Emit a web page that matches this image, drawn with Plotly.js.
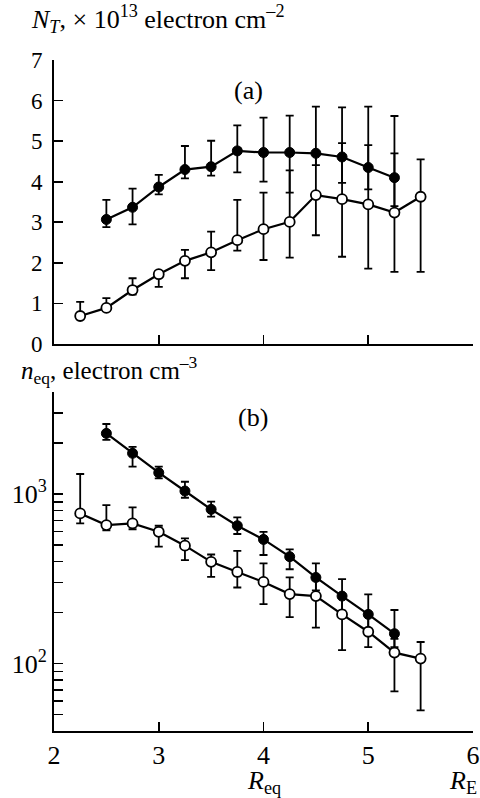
<!DOCTYPE html>
<html>
<head>
<meta charset="utf-8">
<script src="https://cdn.plot.ly/plotly-3.0.1.min.js"></script>
<style>
  html, body { margin: 0; padding: 0; background: #fff; }
  #chart { width: 480px; height: 798px; }
</style>
</head>
<body>
<div id="chart"></div>
<script>
// Equatorial distance, R_E
const rFilled = [2.5, 2.75, 3.0, 3.25, 3.5, 3.75, 4.0, 4.25, 4.5, 4.75, 5.0, 5.25];
const rOpen = [2.25, 2.5, 2.75, 3.0, 3.25, 3.5, 3.75, 4.0, 4.25, 4.5, 4.75, 5.0, 5.25, 5.5];

// (a) total electron content N_T, 1e13 electron cm^-2
const ntFilled   = [3.07, 3.37, 3.87, 4.30, 4.37, 4.76, 4.72, 4.72, 4.70, 4.61, 4.35, 4.10];
const ntFilledHi = [3.55, 3.83, 4.17, 4.88, 5.01, 5.39, 5.58, 5.63, 5.85, 5.83, 5.85, 5.62];
const ntFilledLo = [2.88, 2.95, 3.69, 4.08, 4.15, 4.23, 4.00, 3.73, 4.41, 3.97, 3.81, 3.40];

const ntOpen   = [0.69, 0.89, 1.33, 1.72, 2.05, 2.26, 2.56, 2.83, 3.01, 3.67, 3.57, 3.44, 3.24, 3.63];
const ntOpenHi = [1.04, 1.13, 1.62, 1.80, 2.32, 2.77, 3.55, 3.73, 4.28, 4.66, 4.95, 4.90, 4.70, 4.55];
const ntOpenLo = [0.62, 0.82, 1.22, 1.41, 1.62, 1.82, 2.30, 2.07, 2.13, 2.68, 2.15, 1.86, 1.78, 1.78];

// (b) equatorial electron density n_eq, electron cm^-3
const neFilled   = [2280, 1740, 1336, 1042, 812, 650, 540, 427, 322, 250, 195, 150];
const neFilledHi = [2590, 1900, 1450, 1182, 901, 728, 599, 471, 390, 315, 256, 207];
const neFilledLo = [2085, 1450, 1238, 951, 735, 581, 437, 360, 270, 205, 160, 125];

const neOpen   = [769, 656, 671, 599, 496, 398, 347, 303, 257, 250, 195, 154, 116, 107];
const neOpenHi = [1313, 861, 834, 650, 547, 440, 462, 390, 322, 310, 250, 190, 140, 134];
const neOpenLo = [671, 610, 620, 489, 407, 325, 281, 224, 188, 163, 120, 125, 68.6, 53];

// Axis ticks
const xTicks = [2, 3, 4, 5, 6];
const ntTicks = [0, 1, 2, 3, 4, 5, 6, 7];
const neMajor = [100, 1000];
const neMajorText = ['10<sup>2</sup>', '10<sup>3</sup>'];
const neMinor = [40, 50, 60, 70, 80, 90, 200, 300, 400, 500, 600, 700, 800, 900, 2000, 3000, 4000];

const FONT = 'Liberation Serif';

function errY(val, hi, lo) {
  return {
    type: 'data', symmetric: false,
    array: hi.map((h, i) => h - val[i]),
    arrayminus: lo.map((l, i) => val[i] - l),
    color: '#000', thickness: 1.8, width: 4
  };
}

function series(x, y, hi, lo, filled, xa, ya) {
  return {
    x: x, y: y, xaxis: xa, yaxis: ya,
    type: 'scatter', mode: 'lines+markers',
    line: { color: '#000', width: 2.2 },
    marker: filled
      ? { symbol: 'circle', size: 10, color: '#000', line: { color: '#000', width: 1 } }
      : { symbol: 'circle', size: 10, color: '#fff', line: { color: '#000', width: 1.8 } },
    error_y: errY(y, hi, lo),
    hoverinfo: 'x+y', showlegend: false, cliponaxis: false
  };
}

const data = [
  series(rFilled, ntFilled, ntFilledHi, ntFilledLo, true, 'x', 'y'),
  series(rOpen, ntOpen, ntOpenHi, ntOpenLo, false, 'x', 'y'),
  series(rFilled, neFilled, neFilledHi, neFilledLo, true, 'x2', 'y2'),
  series(rOpen, neOpen, neOpenHi, neOpenLo, false, 'x2', 'y2')
];

// Plot area in pixels, used to place the free text labels
const L = 54, R = 473, T = 60, B = 731, W = 480, H = 798;
const px = v => (v - L) / (R - L);
const py = v => (B - v) / (B - T);

const axisBase = {
  showline: true, linecolor: '#000', linewidth: 2,
  ticks: 'inside', ticklen: 9, tickwidth: 1.6, tickcolor: '#000',
  showgrid: false, zeroline: false,
  tickfont: { family: FONT, size: 23, color: '#000' }
};

const layout = {
  width: W, height: H,
  margin: { l: L, r: W - R, t: T, b: H - B, pad: 0 },
  paper_bgcolor: '#fff', plot_bgcolor: '#fff',
  font: { family: FONT, color: '#000' },
  xaxis: Object.assign({}, axisBase, {
    anchor: 'y', domain: [0, 1], range: [2, 6],
    tickmode: 'array', tickvals: xTicks, showticklabels: false
  }),
  yaxis: Object.assign({}, axisBase, {
    anchor: 'x', domain: [py(344), 1], range: [0, 7],
    tickmode: 'array', tickvals: ntTicks, ticklabelstandoff: 5
  }),
  xaxis2: Object.assign({}, axisBase, {
    anchor: 'y2', domain: [0, 1], range: [2, 6],
    tickmode: 'array', tickvals: xTicks, ticklabelstandoff: 0,
    tickfont: { family: FONT, size: 26, color: '#000' }
  }),
  yaxis2: Object.assign({}, axisBase, {
    anchor: 'x2', domain: [0, py(392)], type: 'log',
    range: [Math.log10(40), Math.log10(4000)],
    tickmode: 'array', tickvals: neMajor, ticktext: neMajorText,
    ticklabelstandoff: 0,
    tickfont: { family: FONT, size: 26, color: '#000' },
    minor: { tickmode: 'array', tickvals: neMinor, ticks: 'inside',
             ticklen: 9, tickwidth: 1.6, tickcolor: '#000', showgrid: false }
  }),
  annotations: [
    { text: '<i>N<sub>T</sub></i>, × 10<sup>13</sup> electron cm<sup>–2</sup>',
      x: px(29), y: py(19), xanchor: 'left', yanchor: 'middle', size: 26 },
    { text: '(a)', x: px(248), y: py(90), xanchor: 'center', yanchor: 'middle', size: 26 },
    { text: '<i>n</i><sub>eq</sub>, electron cm<sup>–3</sup>',
      x: px(19), y: py(370), xanchor: 'left', yanchor: 'middle', size: 25 },
    { text: '(b)', x: px(253), y: py(417), xanchor: 'center', yanchor: 'middle', size: 26 },
    { text: '<i>R</i><sub>eq</sub>', x: px(264), y: py(782), xanchor: 'center', yanchor: 'middle', size: 26 },
    { text: '<i>R</i><sub>E</sub>', x: px(463), y: py(782), xanchor: 'center', yanchor: 'middle', size: 26 }
  ].map(a => ({
    text: a.text, x: a.x, y: a.y, xref: 'paper', yref: 'paper',
    xanchor: a.xanchor, yanchor: a.yanchor, showarrow: false,
    font: { family: FONT, size: a.size, color: '#000' }
  }))
};

Plotly.newPlot('chart', data, layout, { staticPlot: true, displayModeBar: false });
</script>
</body>
</html>
